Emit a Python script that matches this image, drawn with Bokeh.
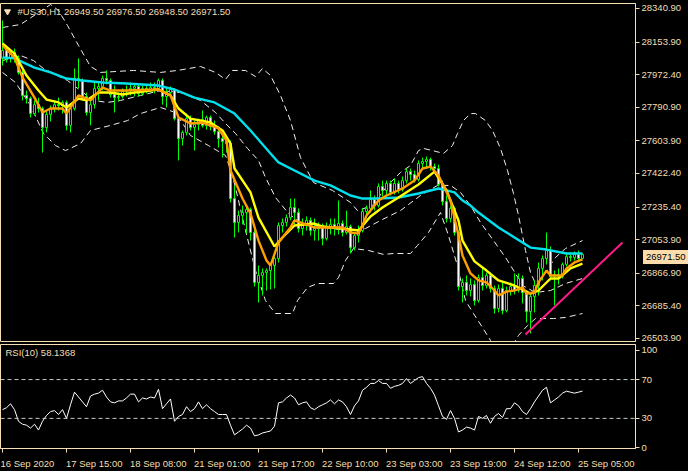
from bokeh.plotting import figure
from bokeh.models import Range1d, FixedTicker, NumeralTickFormatter, Label, Span, Div
from bokeh.layouts import column
from bokeh.embed import file_html
from bokeh.resources import INLINE

# ---------------- data ----------------
opens = [28063, 28107, 28068, 28096, 28063, 27985, 27857, 27840, 27756, 27806,
         27784, 27678, 27751, 27784, 27806, 27801, 27818, 27690, 27784, 27951,
         27940, 27851, 27762, 27806, 27896, 27907, 27951, 27940, 27862, 27845,
         27851, 27879, 27884, 27896, 27907, 27868, 27896, 27890, 27901, 27896,
         27940, 27851, 27873, 27890, 27728, 27617, 27651, 27728, 27678, 27695,
         27723, 27690, 27734, 27684, 27656, 27617, 27600, 27589, 27283, 27150,
         27189, 27205, 27222, 27094, 26816, 26855, 26871, 26882, 26910, 26949,
         27133, 27150, 27177, 27233, 27205, 27116, 27144, 27161, 27105, 27116,
         27133, 27061, 27127, 27138, 27116, 27144, 27094, 27127, 27010, 27077,
         27105, 27211, 27228, 27278, 27244, 27350, 27328, 27367, 27317, 27367,
         27333, 27383, 27433, 27417, 27389, 27478, 27489, 27500, 27461, 27450,
         27361, 27266, 27172, 27228, 27094, 26793, 26816, 26771, 26804, 26715,
         26843, 26799, 26855, 26782, 26671, 26782, 26660, 26771, 26793, 26771,
         26838, 26760, 26654, 26738, 26799, 26894, 26949, 26994, 26849, 26860,
         26849, 26916, 26960, 26955, 26972, 26949.5]
highs = [28274, 28124, 28107, 28118, 28079, 27996, 27884, 27851, 27829, 27845,
         27795, 27773, 27801, 27829, 27845, 27829, 27829, 27801, 28007, 28063,
         27951, 27873, 27840, 27929, 27929, 27968, 27996, 27951, 27912, 27873,
         27896, 27912, 27929, 27918, 27923, 27912, 27918, 27929, 27929, 27951,
         27951, 27896, 27907, 27896, 27745, 27662, 27756, 27745, 27717, 27728,
         27773, 27745, 27745, 27717, 27684, 27639, 27628, 27606, 27356, 27216,
         27244, 27244, 27233, 27127, 26910, 26894, 26894, 26927, 26966, 27150,
         27172, 27194, 27283, 27283, 27228, 27172, 27183, 27177, 27172, 27150,
         27144, 27150, 27172, 27172, 27272, 27161, 27216, 27138, 27094, 27133,
         27228, 27244, 27328, 27300, 27367, 27383, 27383, 27383, 27395, 27383,
         27406, 27450, 27450, 27439, 27495, 27511, 27517, 27511, 27478, 27472,
         27383, 27300, 27244, 27239, 27105, 26838, 26855, 26838, 26827, 26860,
         26899, 26871, 26871, 26799, 26804, 26816, 26793, 26816, 26866, 26866,
         26855, 26771, 26760, 26827, 26927, 26966, 27094, 27016, 26882, 26894,
         26927, 26983, 26983, 26988, 26994, 26976.5]
lows = [28024, 28040, 28040, 28040, 27973, 27829, 27812, 27734, 27745, 27762,
        27539, 27651, 27712, 27762, 27773, 27756, 27662, 27651, 27773, 27896,
        27829, 27745, 27690, 27784, 27829, 27884, 27918, 27845, 27762, 27823,
        27840, 27851, 27857, 27851, 27851, 27857, 27868, 27873, 27868, 27884,
        27806, 27790, 27851, 27717, 27495, 27578, 27634, 27662, 27550, 27662,
        27678, 27667, 27662, 27639, 27567, 27511, 27539, 27261, 27066, 27094,
        27139, 27088, 27049, 26793, 26704, 26743, 26771, 26777, 26782, 26927,
        27094, 27127, 27161, 27139, 27094, 27077, 27105, 27077, 27049, 27049,
        27022, 27049, 27083, 27077, 27083, 27072, 27083, 26977, 26994, 27038,
        27094, 27172, 27205, 27216, 27233, 27294, 27300, 27300, 27305, 27311,
        27322, 27367, 27383, 27372, 27378, 27445, 27450, 27439, 27428, 27350,
        27244, 27150, 27150, 27077, 26771, 26704, 26743, 26738, 26688, 26704,
        26771, 26782, 26760, 26643, 26649, 26638, 26649, 26743, 26749, 26760,
        26699, 26593, 26532, 26649, 26743, 26827, 26916, 26827, 26688, 26804,
        26838, 26905, 26933, 26938, 26938, 26948.5]
closes = [28107, 28068, 28096, 28063, 27985, 27857, 27840, 27756, 27806, 27784,
          27678, 27751, 27784, 27806, 27801, 27818, 27690, 27784, 27951, 27940,
          27851, 27762, 27806, 27896, 27907, 27951, 27940, 27862, 27845, 27851,
          27879, 27884, 27896, 27907, 27868, 27896, 27890, 27901, 27896, 27940,
          27851, 27873, 27890, 27728, 27617, 27651, 27728, 27678, 27695, 27723,
          27690, 27734, 27684, 27656, 27617, 27600, 27589, 27283, 27150, 27189,
          27205, 27222, 27094, 26816, 26855, 26871, 26882, 26910, 26949, 27133,
          27150, 27177, 27233, 27205, 27116, 27144, 27161, 27105, 27116, 27133,
          27061, 27127, 27138, 27116, 27144, 27094, 27127, 27010, 27077, 27105,
          27211, 27228, 27278, 27244, 27350, 27328, 27367, 27317, 27367, 27333,
          27383, 27433, 27417, 27389, 27478, 27489, 27500, 27461, 27450, 27361,
          27266, 27172, 27228, 27094, 26793, 26816, 26771, 26804, 26715, 26843,
          26799, 26855, 26782, 26671, 26782, 26660, 26771, 26793, 26771, 26838,
          26760, 26654, 26738, 26799, 26894, 26949, 26994, 26849, 26860, 26849,
          26916, 26960, 26955, 26972, 26949.5, 26971.5]

# slow moving average (cyan), sampled bars
ma_slow_i = [0, 3, 8, 12, 16, 20, 25, 31, 39, 43, 48, 53, 58, 62, 67, 69, 73, 78, 82, 87,
             90, 94, 99, 104, 109, 111, 113, 115, 117, 119, 124, 128, 132, 136, 141, 145]
ma_slow_v = [28068, 28063, 28012, 27985, 27951, 27940, 27929, 27923, 27912, 27890, 27845,
             27818, 27756, 27662, 27534, 27484, 27439, 27383, 27356, 27300, 27283, 27283,
             27289, 27311, 27339, 27328, 27317, 27272, 27244, 27205, 27122, 27066, 27010,
             26999, 26977, 26977]
# medium moving average (yellow)
ma_mid_i = [0, 3, 6, 9, 11, 14, 16, 19, 21, 24, 27, 30, 33, 39, 42, 44, 47, 52, 55, 57,
            58, 62, 64, 68, 70, 73, 78, 80, 85, 89, 92, 95, 99, 104, 108, 111, 114, 115,
            118, 121, 124, 128, 132, 134, 137, 139, 142, 145]
ma_mid_v = [28146, 28090, 27968, 27884, 27834, 27818, 27790, 27840, 27829, 27873, 27873,
            27862, 27873, 27890, 27857, 27784, 27728, 27706, 27662, 27589, 27450, 27317,
            27177, 27016, 27066, 27133, 27144, 27127, 27116, 27105, 27183, 27233, 27289,
            27361, 27433, 27328, 27161, 27049, 26933, 26882, 26827, 26799, 26754, 26771,
            26838, 26838, 26894, 26921]
# fast moving average (orange)
ma_fast_i = [0, 3, 5, 8, 10, 12, 15, 16, 19, 22, 25, 27, 31, 39, 42, 44, 47, 50, 54, 56,
             57, 60, 62, 64, 66, 67, 69, 72, 73, 78, 85, 87, 89, 90, 91, 94, 96, 100, 103,
             105, 107, 109, 110, 112, 114, 115, 117, 119, 121, 123, 124, 126, 128, 130,
             131, 133, 134, 136, 137, 140, 141, 143, 145]
ma_fast_v = [28135, 28068, 27957, 27845, 27762, 27784, 27784, 27756, 27857, 27829, 27901,
             27884, 27884, 27890, 27857, 27734, 27701, 27706, 27673, 27606, 27439, 27283,
             27200, 27049, 26938, 26910, 27038, 27122, 27161, 27122, 27122, 27094, 27088,
             27133, 27189, 27272, 27300, 27339, 27383, 27450, 27461, 27411, 27367, 27272,
             27077, 26966, 26866, 26827, 26816, 26771, 26743, 26765, 26771, 26788, 26754,
             26760, 26816, 26882, 26855, 26855, 26894, 26927, 26944]

# Bollinger bands (dashed): upper, middle, lower
bb_up_i = [0, 4.5, 8.25, 12, 14, 16.25, 19, 22, 24.5, 32.75, 39.5, 43.75, 49.5, 53.25,
           55.75, 57.5, 60.75, 63.25, 65, 67, 69.5, 72, 74.5, 77.75, 82.5, 87, 88.75,
           92.5, 96.25, 99.5, 102, 104, 105.25, 107.5, 110.25, 112.5, 113.75, 115.25,
           117, 118.25, 120.75, 122.5, 124.5, 126.25, 127.75, 129, 130, 130.75, 132,
           133.25, 135.75, 138.25, 140.75, 145]
bb_up_v = [28235, 28252, 28307, 28363, 28330, 28246, 28135, 28018, 27985, 27996, 27985,
           27996, 28018, 27985, 27946, 27996, 27996, 27962, 28007, 27968, 27857, 27717,
           27511, 27372, 27328, 27261, 27216, 27244, 27356, 27428, 27467, 27550, 27562,
           27550, 27534, 27578, 27645, 27717, 27756, 27756, 27717, 27662, 27562, 27439,
           27311, 27189, 27077, 26994, 26871, 26810, 26871, 26955, 27005, 27049]
bb_md_i = [0, 4.5, 7.75, 10.25, 13.25, 16.25, 19.5, 22.75, 26.25, 29.5, 34.5, 39.5, 44.5,
           49.5, 53.25, 55.75, 58.25, 61.25, 64, 65.75, 68.25, 71.5, 74.5, 82, 87, 90.75,
           94.5, 99.5, 104.5, 108.75, 112, 114.5, 117, 119.5, 122.75, 125.75, 128.25,
           130, 133.25, 137, 140.75, 145]
bb_md_v = [28051, 28079, 28051, 28007, 27973, 27940, 27884, 27829, 27818, 27829, 27857,
           27884, 27873, 27829, 27762, 27701, 27645, 27562, 27495, 27400, 27289, 27200,
           27150, 27116, 27105, 27116, 27161, 27216, 27300, 27356, 27356, 27317, 27244,
           27150, 27049, 26955, 26866, 26799, 26760, 26771, 26810, 26838]
bb_lo_i = [0, 3.25, 7, 10.25, 13.25, 15.75, 19.5, 22, 27, 31.25, 34.5, 39.5, 43.25, 47,
           51.5, 55.75, 57.5, 59, 60.75, 63.25, 65.75, 68.25, 72.5, 73.75, 76.25, 78.75,
           82.75, 84, 85.75, 87.75, 91.5, 95.25, 97.75, 102, 103.75, 106.5, 109.5, 111.5,
           113.5, 115.75, 117.75, 120, 122, 124.5, 127.5, 129, 131.25, 133.25, 137.75,
           140.75, 145]
bb_lo_v = [27985, 27929, 27801, 27645, 27578, 27550, 27589, 27662, 27690, 27717, 27756,
           27790, 27762, 27634, 27578, 27523, 27411, 27272, 27105, 26882, 26715, 26643,
           26643, 26715, 26788, 26810, 26810, 26843, 26938, 27005, 26994, 26972, 26977,
           26977, 27022, 27094, 27205, 27077, 26927, 26715, 26643, 26565, 26493, 26437,
           26465, 26521, 26576, 26615, 26615, 26621, 26643]

# RSI(10)
rsi = [39, 41, 45, 39, 27, 24, 23, 20, 24, 18, 27, 33, 37, 38, 34, 39, 30, 44, 57, 52,
       47, 42, 53, 55, 56, 59, 52, 47, 46, 48, 48, 51, 55, 55, 47, 51, 50, 52, 51, 60,
       40, 45, 50, 27, 32, 34, 42, 37, 40, 47, 40, 44, 40, 37, 34, 34, 34, 23, 13, 16,
       19, 23, 20, 12, 13, 15, 16, 17, 22, 46, 47, 51, 54, 51, 44, 46, 47, 41, 39, 42,
       44, 46, 49, 45, 49, 47, 42, 34, 43, 48, 59, 62, 66, 66, 69, 66, 66, 61, 63, 64,
       66, 71, 66, 69, 72, 73, 66, 61, 54, 43, 32, 29, 38, 30, 16, 18, 21, 20, 18, 32,
       30, 33, 25, 32, 35, 31, 40, 40, 46, 43, 37, 34, 40, 47, 53, 59, 62, 46, 49, 52,
       56, 58, 57, 56, 57, 58.1368]

# trend line (two anchor points)
trend_i = [130.75, 155.0]
trend_v = [26526, 27038]

price_ticks = [28340.9, 28153.9, 27972.4, 27790.9, 27603.9, 27422.4, 27235.4,
               27053.9, 26866.9, 26685.4, 26503.9]
time_tick_i = [0, 16, 32, 48, 64, 80, 96, 112, 128, 144]
time_tick_labels = ["16 Sep 2020", "17 Sep 15:00", "18 Sep 08:00", "21 Sep 01:00",
                    "21 Sep 17:00", "22 Sep 10:00", "23 Sep 03:00", "23 Sep 19:00",
                    "24 Sep 12:00", "25 Sep 05:00"]
rsi_ticks = [0, 30, 70, 100]
rsi_levels = [30, 70]

symbol_text = "#US30,H1  26949.50 26976.50 26948.50 26971.50"
rsi_text = "RSI(10) 58.1368"
last_price = 26971.5
last_price_text = "26971.50"

# ---------------- style ----------------
FG = "#f5deb3"
GREEN = "#00ff00"
CYAN = "#00e1ee"
YELLOW = "#ffff00"
ORANGE = "#ffa000"
PINK = "#ff1a8c"
BAND = "#eeeeee"
FONT = "Liberation Sans"
FS = "9.5px"

# approximate glyph advance widths (em) of the sans font, used to left-align
# the time labels at their ticks, as MetaTrader does
ADV = {" ": 0.278, ":": 0.278, "S": 0.667, "e": 0.556, "p": 0.556}
NBSP_W = 0.278


def left_aligned(s):
    w = sum(ADV.get(ch, 0.556) for ch in s)
    return "\u00a0" * int(round(w / NBSP_W)) + s


W = 688
MAIN_H = 344
Y_LO, Y_HI = 26487.2, 28368.7
x_range = Range1d(-0.5, 158.25)

p = figure(width=W, height=MAIN_H, x_range=x_range, y_range=Range1d(Y_LO, Y_HI),
           output_backend="svg", toolbar_location=None, x_axis_location=None,
           y_axis_location="right", min_border_left=0, min_border_right=53,
           min_border_top=3, min_border_bottom=3,
           background_fill_color="black", border_fill_color="black",
           outline_line_color=FG, outline_line_width=1)
p.grid.visible = False

idx = list(range(len(closes)))
body_top = [max(o, c) for o, c in zip(opens, closes)]
body_bot = [min(o, c) for o, c in zip(opens, closes)]
body_fill = ["black" if c >= o else "white" for o, c in zip(opens, closes)]

for bi, bv in ((bb_up_i, bb_up_v), (bb_md_i, bb_md_v), (bb_lo_i, bb_lo_v)):
    p.line(bi, bv, line_color=BAND, line_width=1, line_dash="6 4")

p.segment(x0=idx, y0=lows, x1=idx, y1=highs, line_color=GREEN, line_width=1)
p.vbar(x=idx, width=0.5, top=body_top, bottom=body_bot, fill_color=body_fill,
       line_color=GREEN, line_width=1)

p.line(ma_slow_i, ma_slow_v, line_color=CYAN, line_width=2.4)
p.line(ma_mid_i, ma_mid_v, line_color=YELLOW, line_width=2.4)
p.line(ma_fast_i, ma_fast_v, line_color=ORANGE, line_width=2.4)
p.line(trend_i, trend_v, line_color=PINK, line_width=2)

ya = p.yaxis[0]
ya.ticker = FixedTicker(ticks=price_ticks)
ya.formatter = NumeralTickFormatter(format="0.00")
ya.major_label_text_color = FG
ya.major_label_text_font = FONT
ya.major_label_text_font_size = FS
ya.axis_line_color = FG
ya.major_tick_line_color = FG
ya.major_tick_out = 4
ya.major_tick_in = 0
ya.minor_tick_line_color = None
ya.major_label_standoff = 2

p.scatter(x=[1.25], y=[28324], marker="inverted_triangle", size=6, color=FG)
p.add_layout(Label(x=3.75, y=28324, text=symbol_text, text_color=FG,
                   text_font=FONT, text_font_size=FS, text_baseline="middle"))

# ---------------- RSI panel ----------------
r = figure(width=W, height=127, x_range=x_range, y_range=Range1d(-1.02, 106.1),
           output_backend="svg", toolbar_location=None, y_axis_location="right",
           min_border_left=0, min_border_right=53, min_border_top=0, min_border_bottom=22,
           background_fill_color="black", border_fill_color="black",
           outline_line_color=FG, outline_line_width=1)
r.grid.visible = False
for lv in rsi_levels:
    r.add_layout(Span(location=lv, dimension="width", line_color="#c8c8c8",
                      line_dash="4 3", line_width=1))
r.line(idx, rsi, line_color="white", line_width=1)
r.add_layout(Label(x=0.75, y=98, text=rsi_text, text_color=FG, text_font=FONT,
                   text_font_size=FS, text_baseline="middle"))

ra = r.yaxis[0]
ra.ticker = FixedTicker(ticks=rsi_ticks)
ra.major_label_text_color = FG
ra.major_label_text_font = FONT
ra.major_label_text_font_size = FS
ra.axis_line_color = FG
ra.major_tick_line_color = FG
ra.major_tick_out = 4
ra.major_tick_in = 0
ra.minor_tick_line_color = None
ra.major_label_standoff = 2

xa = r.xaxis[0]
xa.ticker = FixedTicker(ticks=time_tick_i)
xa.major_label_overrides = {t: (s if t == time_tick_i[0] else left_aligned(s))
                            for t, s in zip(time_tick_i, time_tick_labels)}
xa.major_label_text_color = FG
xa.major_label_text_font = FONT
xa.major_label_text_font_size = FS
xa.axis_line_color = FG
xa.major_tick_line_color = FG
xa.major_tick_out = 4
xa.major_tick_in = 0
xa.minor_tick_line_color = None
xa.major_label_standoff = 5

# last-price marker on the price scale: placed from the same y scale
frame_top, frame_h = 3, MAIN_H - 6
y_px = frame_top + (Y_HI - last_price) / (Y_HI - Y_LO) * frame_h
tag = Div(text=last_price_text,
          styles={"position": "absolute", "left": "638px", "top": f"{y_px - 9:.0f}px",
                  "background-color": "#fddcab", "color": "black",
                  "font-family": FONT, "font-size": FS, "line-height": "14px",
                  "padding": "0px 3px 0px 3px", "z-index": "10"})

layout = column(p, r, tag, spacing=0, styles={"background-color": "black",
                                               "position": "relative"})
open("out.html", "w").write(file_html(layout, INLINE))
